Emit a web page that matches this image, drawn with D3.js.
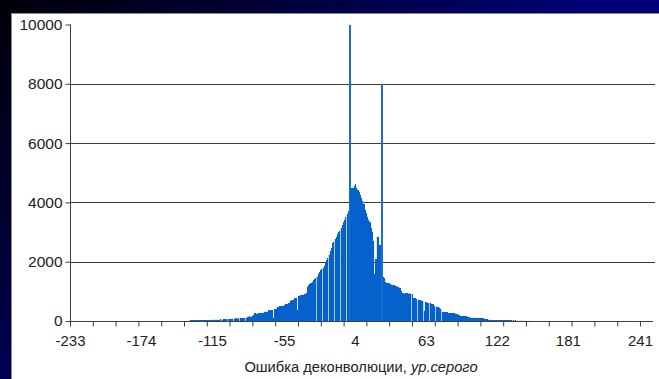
<!DOCTYPE html>
<html>
<head>
<meta charset="utf-8">
<script src="https://cdn.jsdelivr.net/npm/d3@7"></script>
<style>
html,body{margin:0;padding:0;background:#000;}
svg{display:block;}
text{font-family:"Liberation Sans",Arial,sans-serif;fill:#222;}
</style>
</head>
<body>
<svg id="chart" width="659" height="379"></svg>
<script>
// ---- data ----
const binStart = -135; // first bin value (grey-level error)
const counts = [
 10,15,20,18,22,25,20,28,24,30,26,22,32,28,35,
 30,38,34,42,36,45,40,48,44,38,50,46,52,48,55,
 60,58,65,70,62,75,72,80,68,85,
 90,82,95,100,88,105,98,110,100,
 145,150,160,140,175,200,
 255,260,250,265,262,258,270,268,
 310,315,320,318,
 365,370,375,372,
 100,390,410,
 470,480,490,500,510,520,540,560,580,595,610,
 690,700,710,
 760,775,780,
 370,
 860,870,875,880,890,900,950,
 1160,1200,1250,1270,1300,
 1380,1400,1440,
 1500,1600,1650,
 1720,1750,1800,1870,1950,
 2060,2120,2240,2360,2450,2620,2680,2750,2840,2920,3010,3050,3120,3240,3330,3420,3520,3600,3700,
 10000,
 4480,4500,4480,4550,4610,4500,4420,4350,4250,4150,4050,3950,3750,3650,3520,3420,3350,3150,3010,
 2700,1600,2100,2840,2840,2560,2560,
 8000,
 1490,1450,1300,1290,1280,1270,1250,1230,1210,1200,1190,1170,1160,1150,1100,1000,
 930,940,925,935,930,920,930,925,900,
 780,765,760,750,
 710,700,700,690,680,
 350,640,630,
 610,600,600,590,580,560,
 490,480,480,470,450,
 400,
 320,310,310,300,290,
 280,270,
 265,260,260,255,250,240,230,
 210,
 180,175,170,165,160,160,150,
 140,
 120,118,115,115,112,110,108,105,100,95,
 90,85,80,
 65,60,55,50,
 40,38,36,35,35,34,33,32,30,30,28,26,
 25,22,20,22,20,18,20,18,15,18,15,14,12,14,12,10,12,10,8,8,6,5,4
];
const xLabels = [-233, -174, -115, -55, 4, 63, 122, 181, 241];
const xMinorTickCount = 25;   // minor tick intervals between -233 and 241
const yTicks = [0, 2000, 4000, 6000, 8000, 10000];
const yGrid = [2000, 4000, 6000, 8000];
const titleMain = "Ошибка деконволюции, ";
const titleItalic = "ур.серого";

// ---- drawing ----
const svg = d3.select("#chart");
const W = 659, H = 379;
const fmt = d => String(d); // plain hyphen-minus like the original

const defs = svg.append("defs");
const grad = defs.append("linearGradient").attr("id","bg")
  .attr("gradientUnits","userSpaceOnUse")
  .attr("x1",0).attr("y1",0).attr("x2",280).attr("y2",300);
grad.append("stop").attr("offset","0").attr("stop-color","#000008");
grad.append("stop").attr("offset","0.5").attr("stop-color","#00003c");
grad.append("stop").attr("offset","1").attr("stop-color","#000078");
svg.append("rect").attr("width",W).attr("height",H).attr("fill","url(#bg)");

// white panel
svg.append("rect").attr("x",11.5).attr("y",13.5).attr("width",660).attr("height",380)
  .attr("fill","#fff").attr("stroke","#8a8a8a").attr("stroke-width",1);

const x = d3.scaleLinear().domain([-233, 252]).range([70, 653.2]);
const y = d3.scaleLinear().domain([0, 10000]).range([321, 24.5]);

// gridlines
svg.append("g").selectAll("line").data(yGrid).join("line")
  .attr("x1",70).attr("x2",655)
  .attr("y1",d=>Math.round(y(d))+0.5).attr("y2",d=>Math.round(y(d))+0.5)
  .attr("stroke","#3a3a3a").attr("stroke-width",1);

// bars
const bins = counts.map((c,i)=>({v: binStart+i, c}));
const hv = c => Math.min(c,10000);
// light underlay (shows through where adjacent bars leave a pixel gap)
svg.append("g").selectAll("rect").data(bins.filter(d=>d.c<8000)).join("rect")
  .attr("x", d=>x(d.v))
  .attr("width", d=>x(d.v+1)-x(d.v))
  .attr("y", d=>y(hv(d.c)))
  .attr("height", d=>y(0)-y(hv(d.c)))
  .attr("fill", "#8fbbe8");
svg.append("g").attr("shape-rendering","crispEdges").selectAll("rect").data(bins).join("rect")
  .attr("x", d=>x(d.v))
  .attr("width", d=> (d.c>=8000 ? 2 : (x(d.v+1)-x(d.v))*0.94))
  .attr("y", d=>y(hv(d.c)))
  .attr("height", d=>y(0)-y(hv(d.c)))
  .attr("fill", d=> d.c>=8000 ? "#1a6dd4" : "#0562cc");

// y axis
const yAxis = d3.axisLeft(y).tickValues(yTicks).tickSize(5).tickPadding(3).tickFormat(fmt);
const gy = svg.append("g").attr("transform","translate(70.5,0)").call(yAxis);
gy.select(".domain").attr("stroke","#404040").attr("d","M0,321V24.5");
gy.selectAll(".tick line").attr("stroke","#404040");
gy.selectAll("text").style("font-size","15.5px").attr("fill","#222");

// x axis minor ticks
const minorVals = d3.range(0, xMinorTickCount+1).map(i => xLabels[0] + i*(xLabels[xLabels.length-1]-xLabels[0])/xMinorTickCount);
const xMinor = d3.axisBottom(x).tickValues(minorVals).tickSize(5).tickFormat("");
const gxm = svg.append("g").attr("transform","translate(0,321.5)").call(xMinor);
gxm.select(".domain").attr("stroke","#404040").attr("d","M70,0H653");
gxm.selectAll(".tick line").attr("stroke","#404040");

// x axis labels
const xAxis = d3.axisBottom(x).tickValues(xLabels).tickSize(0).tickPadding(14).tickFormat(fmt);
const gx = svg.append("g").attr("transform","translate(0,321.5)").call(xAxis);
gx.select(".domain").remove();
gx.selectAll("text").style("font-size","15px").attr("fill","#222");

// title
const t = svg.append("text").attr("x",361).attr("y",372).attr("text-anchor","middle")
  .style("font-size","14.7px");
t.append("tspan").text(titleMain);
t.append("tspan").style("font-style","italic").text(titleItalic);
</script>
</body>
</html>
